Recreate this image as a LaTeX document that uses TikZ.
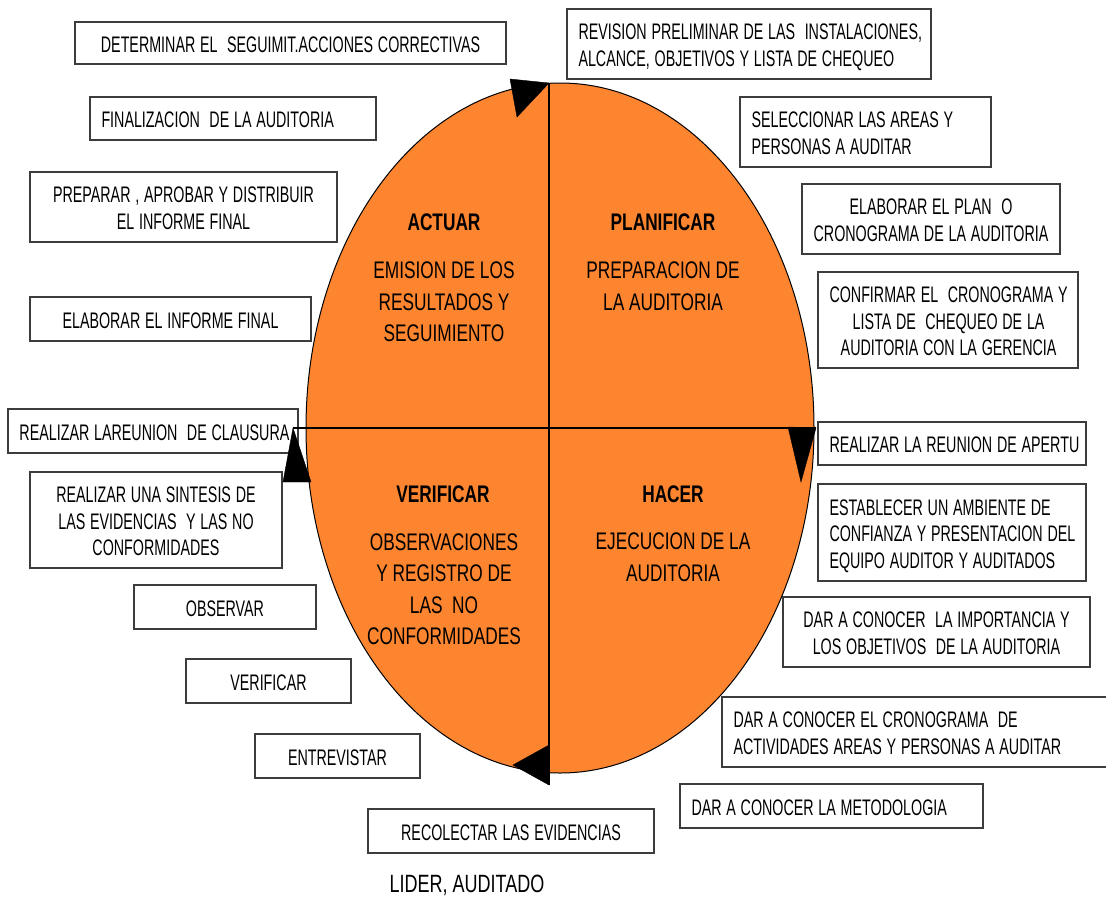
\documentclass[tikz,border=0pt]{standalone}
\usepackage{graphicx}
\usepackage{fontspec}
\setmainfont[FakeStretch=0.72]{Liberation Sans}
\newfontfamily\boxfont{Liberation Sans}
\newcommand\boxtext{\boxfont\fontsize{22.5}{26.5}\selectfont}
\definecolor{cycleorange}{RGB}{253,133,47}
\definecolor{boxline}{RGB}{60,60,60}

% task box: name, x1, y1, x2, y2, paragraph alignment, column type, lines
% (the lines are set in a horizontally condensed block)
\newcommand\mkbox[8]{%
  \pgfmathsetmacro\mkboxw{#4-#2}%
  \pgfmathsetmacro\mkboxh{#5-#3}%
  \pgfmathsetmacro\mkboxt{#4-#2-23}%
  \node[taskbox, align=#6, minimum width=\mkboxw pt, minimum height=\mkboxh pt,
        text width=\mkboxt pt] (#1) at ({(#2+#4)/2},{(#3+#5)/2})
    {\scalebox{0.635}[1]{\setbox\strutbox\hbox{\vrule height22.3pt depth4.2pt width0pt}%
     \begin{tabular}{@{}#7@{}}#8\end{tabular}}};}
\newcommand\taskL[6]{\mkbox{#1}{#2}{#3}{#4}{#5}{left}{l}{#6}}
\newcommand\taskC[6]{\mkbox{#1}{#2}{#3}{#4}{#5}{center}{c}{#6}}

\begin{document}
\begin{tikzpicture}[x=1pt,y=-1pt,
  taskbox/.style={draw=boxline, line width=1.2pt, fill=white, inner sep=0pt,
                  font=\boxtext},
  phase/.style={font=\bfseries\fontsize{24}{31.5}\selectfont, inner sep=0pt},
  phasetext/.style={font=\fontsize{24}{31.5}\selectfont, align=center, inner sep=0pt},
  axis/.style={line width=1.3pt, black},
  tip/.style={fill=black, draw=black, line width=0.4pt, line join=miter}]
\useasboundingbox (0,0) rectangle (1106,897);
\fill[white] (0,0) rectangle (1106,897);

% PDCA cycle
\draw[fill=cycleorange, line width=1pt] (560,428) ellipse [x radius=254, y radius=345];

\node[phase] (actuar) at (444,222) {ACTUAR};
\node[phasetext] (actuartxt) at (444,302) {EMISION DE LOS\\RESULTADOS Y\\SEGUIMIENTO};
\node[phase] (planificar) at (663,222) {PLANIFICAR};
\node[phasetext] (planificartxt) at (663,286) {PREPARACION DE\\LA AUDITORIA};
\node[phase] (verificar) at (443,494) {VERIFICAR};
\node[phasetext] (verificartxt) at (444,589) {OBSERVACIONES\\Y REGISTRO DE\\LAS~ NO\\CONFORMIDADES};
\node[phase] (hacer) at (673,494) {HACER};
\node[phasetext] (hacertxt) at (673,557) {EJECUCION DE LA\\AUDITORIA};

% left column of tasks
\taskC{b1}{75}{22}{506}{64}{DETERMINAR EL~ SEGUIMIT.ACCIONES CORRECTIVAS}
\taskL{b2}{90}{97}{376}{140}{FINALIZACION~ DE LA AUDITORIA}
\taskC{b3}{30}{172}{337}{242}{PREPARAR , APROBAR Y DISTRIBUIR\\EL INFORME FINAL}
\taskC{b4}{30}{297}{311}{341}{ELABORAR EL INFORME FINAL}
\taskL{b5}{8}{409}{298}{453}{REALIZAR LAREUNION~ DE CLAUSURA}
\taskC{b6}{30}{472}{282}{568}{REALIZAR UNA SINTESIS DE\\LAS EVIDENCIAS~ Y LAS NO\\CONFORMIDADES}
\taskC{b7}{134}{585}{316}{629}{OBSERVAR}
\taskC{b8}{186}{659}{351}{703}{VERIFICAR}
\taskC{b9}{255}{734}{420}{778}{ENTREVISTAR}
\taskC{b10}{368}{809}{654}{853}{RECOLECTAR LAS EVIDENCIAS}
\node[font=\fontsize{25}{30}\selectfont, inner sep=0pt] (roles) at (467,885) {LIDER, AUDITADO};

% right column of tasks
\taskL{b11}{567}{9}{931}{79}{REVISION PRELIMINAR DE LAS~ INSTALACIONES,\\ALCANCE, OBJETIVOS Y LISTA DE CHEQUEO}
\taskL{b12}{740}{97}{991}{167}{SELECCIONAR LAS AREAS Y\\PERSONAS A AUDITAR}
\taskC{b13}{802}{184}{1060}{254}{ELABORAR EL PLAN~ O\\CRONOGRAMA DE LA AUDITORIA}
\taskC{b14}{818}{272}{1078}{368}{CONFIRMAR EL~ CRONOGRAMA Y\\LISTA DE~ CHEQUEO DE LA\\AUDITORIA CON LA GERENCIA}
\taskL{b15}{818}{422}{1086}{465}{REALIZAR LA REUNION DE APERTU}
\taskL{b16}{818}{484}{1086}{581}{ESTABLECER UN AMBIENTE DE\\CONFIANZA Y PRESENTACION DEL\\EQUIPO AUDITOR Y AUDITADOS}
\taskC{b17}{783}{597}{1090}{667}{DAR A CONOCER~ LA IMPORTANCIA Y\\LOS OBJETIVOS~ DE LA AUDITORIA}
\taskL{b18}{722}{697}{1110}{767}{DAR A CONOCER EL CRONOGRAMA~ DE\\ACTIVIDADES AREAS Y PERSONAS A AUDITAR}
\taskL{b19}{680}{784}{983}{828}{DAR A CONOCER LA METODOLOGIA}

% quadrant axes, ending at the arrow heads
\coordinate (topend) at (549,83);
\coordinate (bottomend) at (549,785);
\coordinate (leftend) at (293,428);
\coordinate (rightend) at (816,428);
\draw[axis] (topend) -- (bottomend);
\draw[axis] (leftend) -- (rightend);

% direction of the cycle
\fill[tip] (510,79) -- (topend) -- (517,117) -- cycle;
\fill[tip] (788,427) -- (rightend) -- (801,482) -- cycle;
\fill[tip] (leftend) -- (283,482) -- (311,482) -- cycle;
\fill[tip] (513,765) -- (549,745) -- (bottomend) -- cycle;
\end{tikzpicture}
\end{document}
